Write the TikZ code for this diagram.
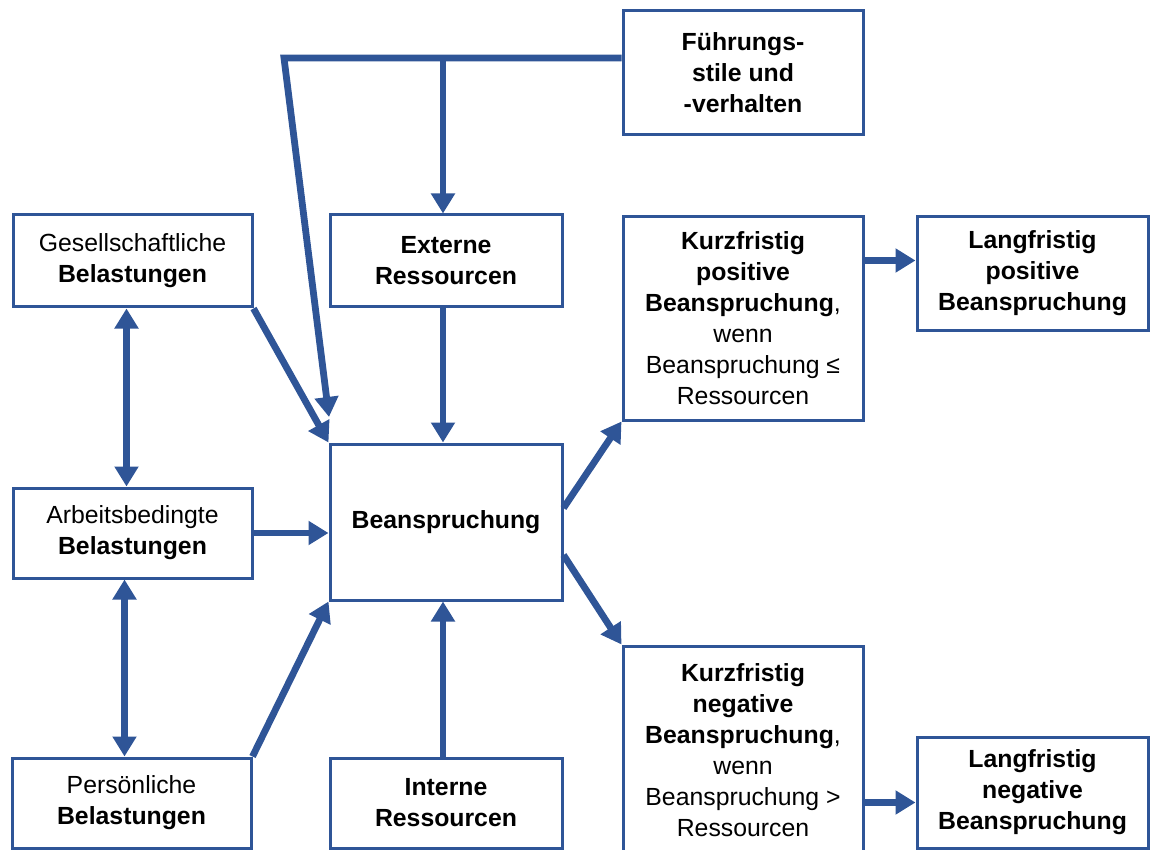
\documentclass[tikz,border=0pt]{standalone}
\usepackage{fontspec}
\setmainfont{Liberation Sans}
\usetikzlibrary{arrows.meta}
\definecolor{bl}{RGB}{47,85,151}
\tikzset{
  box/.style={draw=bl, line width=3pt, fill=white, inner sep=0pt, align=center,
    font=\fontsize{24.8}{31}\selectfont},
  conn/.style={draw=bl, line width=6.8pt},
  arr/.style={conn, -{Triangle[length=20pt,width=23pt]}},
  darr/.style={conn, {Triangle[length=20pt,width=23pt]}-{Triangle[length=20pt,width=23pt]}}
}
\begin{document}
\begin{tikzpicture}[x=1pt,y=-1pt]
\useasboundingbox (0,0) rectangle (1151,850);
\begin{scope}
\clip (0,0) rectangle (1151,850);
\node[box, minimum width=240pt, minimum height=124pt] (fuehrung) at (743,73) {\textbf{Führungs-}\\\textbf{stile und}\\\textbf{-verhalten}};
\node[box, minimum width=239pt, minimum height=92pt] (gesell) at (132.5,261) {Gesellschaftliche\\\textbf{Belastungen}};
\node[box, minimum width=232pt, minimum height=92pt] (extern) at (446,261) {\textbf{Externe}\\\textbf{Ressourcen}};
\node[box, minimum width=240pt, minimum height=203pt] (kpos) at (743,318.5) {\textbf{Kurzfristig}\\\textbf{positive}\\\textbf{Beanspruchung},\\wenn\\Beanspruchung ≤\\Ressourcen};
\node[box, minimum width=231pt, minimum height=113pt] (lpos) at (1032.5,273.5) {\textbf{Langfristig}\\\textbf{positive}\\\textbf{Beanspruchung}};
\node[box, minimum width=239pt, minimum height=90pt] (arbeit) at (132.5,533) {Arbeitsbedingte\\\textbf{Belastungen}};
\node[box, minimum width=232pt, minimum height=156pt] (bean) at (446,522) {\textbf{Beanspruchung}};
\node[box, minimum width=239pt, minimum height=90pt] (pers) at (131.5,803) {Persönliche\\\textbf{Belastungen}};
\node[box, minimum width=232pt, minimum height=90pt] (intern) at (446,803) {\textbf{Interne}\\\textbf{Ressourcen}};
\node[box, minimum width=240pt, minimum height=208pt] (kneg) at (743,750) {\textbf{Kurzfristig}\\\textbf{negative}\\\textbf{Beanspruchung},\\wenn\\Beanspruchung >\\Ressourcen};
\node[box, minimum width=231pt, minimum height=111pt] (lneg) at (1032.5,792.5) {\textbf{Langfristig}\\\textbf{negative}\\\textbf{Beanspruchung}};

% top feedback line from Führung
\coordinate (fw) at ([yshift=15pt]fuehrung.west);
\coordinate (tl) at (284,58);
\coordinate (tip) at (329,417);
\draw[arr, line join=miter] (fw) -- (tl) -- (tip);
\coordinate (ext) at ([xshift=-3pt]extern.north);
\draw[arr] (ext |- fw) -- (ext);

% into Beanspruchung
\draw[arr] (gesell.south east) -- (bean.north west);
\draw[arr] ([xshift=-3pt]extern.south) -- ([xshift=-3pt]bean.north);
\draw[arr] (arbeit.east) -- (arbeit.east -| bean.west);
\draw[arr] (pers.north east) -- (bean.south west);
\draw[arr] ([xshift=-3pt]intern.north) -- ([xshift=-3pt]bean.south);

% between Belastungen
\draw[darr] ([xshift=-6pt]gesell.south) -- ([xshift=-6pt]arbeit.north);
\draw[darr] ([xshift=-8pt]arbeit.south) -- ([xshift=-7pt]pers.north);

% out of Beanspruchung
\draw[arr] ([yshift=14pt]bean.east) -- (kpos.south west);
\draw[arr] ([yshift=-33pt]bean.east) -- (kneg.north west);

% to long-term
\coordinate (lp) at ([yshift=13pt]lpos.west);
\draw[arr] (kpos.east |- lp) -- (lp);
\coordinate (ln) at ([yshift=-10pt]lneg.west);
\draw[arr] (kneg.east |- ln) -- (ln);
\end{scope}
\end{tikzpicture}
\end{document}
